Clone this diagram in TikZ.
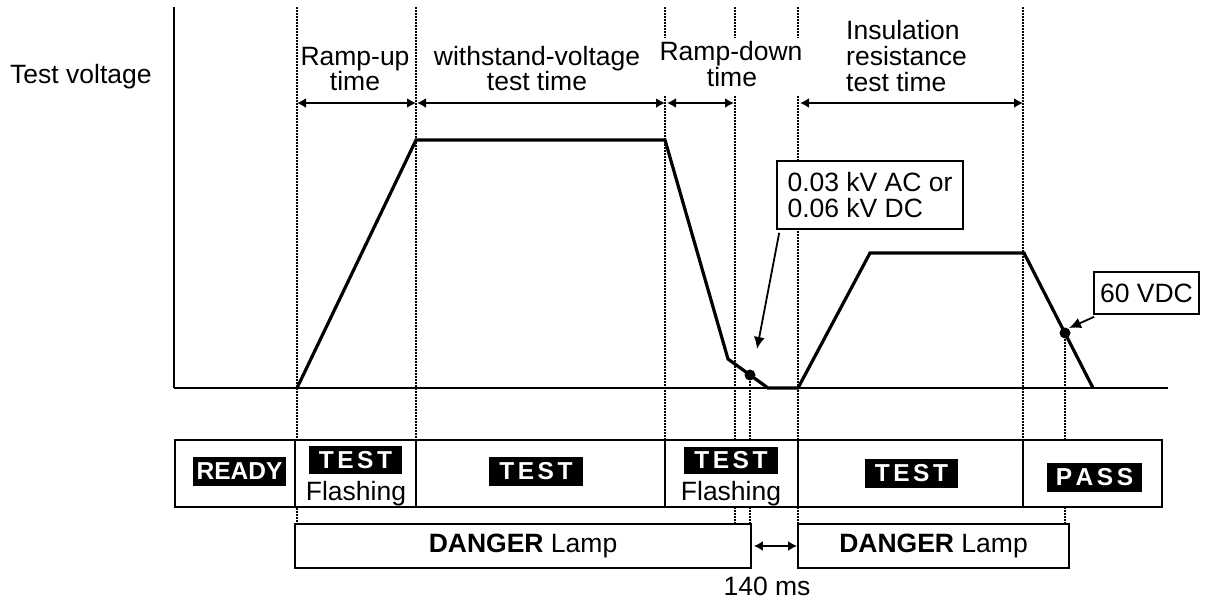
\documentclass[tikz,border=0pt]{standalone}
\usepackage{fontspec}
\setmainfont{Liberation Sans}
\usetikzlibrary{arrows.meta}
\newcommand\TestTag{T\kern3.5pt E\kern3.5pt S\kern3.5pt T}
\newcommand\PassTag{P\kern3.5pt A\kern3.5pt S\kern3.5pt S}
\begin{document}
\begin{tikzpicture}[x=1pt,y=-1pt,
  every node/.style={inner sep=0pt},
  txt/.style={font=\fontsize{26.5}{26}\selectfont},
  guide/.style={line width=1.1pt, dash pattern=on 1.6pt off 1.4pt},
  wave/.style={line width=3.2pt, line join=miter},
  dim/.style={line width=2pt, {Latex[length=9pt,width=10pt]}-{Latex[length=9pt,width=10pt]}},
  pointer/.style={line width=1.8pt, -{Latex[length=12pt,width=11pt]}},
  sbox/.style={draw, line width=1.8pt, fill=white, minimum height=67pt},
  lamp/.style={draw, line width=1.8pt, fill=white, minimum height=44pt, txt},
  tag/.style={fill=black, text=white, font=\fontsize{24.5}{24.5}\bfseries\selectfont, minimum height=29pt},
  note/.style={draw, line width=1.6pt, fill=white, txt, align=left}
]
\useasboundingbox (0,0) rectangle (1210,603);

% guide lines
\draw[guide] (297,7) -- (297,524);
\draw[guide] (416,7) -- (416,440);
\draw[guide] (665,7) -- (665,38) (665,96) -- (665,440);
\draw[guide] (735,7) -- (735,38) (735,96) -- (735,524);
\draw[guide] (750,375) -- (750,524);
\draw[guide] (798,7) -- (798,38) (798,96) -- (798,524);
\draw[guide] (1023,7) -- (1023,440);
\draw[guide] (1065,333) -- (1065,524);

% waveform points
\coordinate (p0) at (174,388);
\coordinate (p1) at (297,388);
\coordinate (p2) at (416,140);
\coordinate (p3) at (665,140);
\coordinate (p4) at (728,359);
\coordinate (p5) at (768,388);
\coordinate (p6) at (798,388);
\coordinate (p7) at (870,253);
\coordinate (p8) at (1024,253);
\coordinate (p9) at (1093,388);
\coordinate (p10) at (1168,388);
\coordinate (top) at (174,7);

% axes
\draw[line width=2.2pt] (top) -- (p0);
\draw[line width=2.7pt] (p0) -- (p10);
\draw[wave] (p1) -- (p2) -- (p3) -- (p4) -- (p5) -- (p6) -- (p7) -- (p8) -- (p9);

% dots
\node[circle, fill=black, minimum size=11pt] (dA) at (750,375) {};
\node[circle, fill=black, minimum size=11pt] (dB) at (1065,333) {};

% labels at top
\node[txt, anchor=base west] (tv) at (10,83) {Test voltage};
\node[txt, anchor=base] (ru1) at (355,65) {Ramp-up};
\node[txt, anchor=base] (ru2) at (355,90) {time};
\node[txt, anchor=base] (wv1) at (537,65) {withstand-voltage};
\node[txt, anchor=base] (wv2) at (537,90) {test time};
\node[txt, anchor=base] (rd1) at (731,60) {Ramp-down};
\node[txt, anchor=base] (rd2) at (732,86) {time};
\node[txt, anchor=base west] (ir1) at (846,39) {Insulation};
\node[txt, anchor=base west] (ir2) at (846,65) {resistance};
\node[txt, anchor=base west] (ir3) at (846,91) {test time};

% dimension arrows
\draw[dim] (297,103) -- (416,103);
\draw[dim] (417,103) -- (665,103);
\draw[dim] (667,103) -- (734,103);
\draw[dim] (800,103) -- (1023,103);

% notes
\node[note, minimum width=186pt, minimum height=68pt] (n1) at (870,195) {0.03 kV AC or\\0.06 kV DC};
\node[note, minimum width=105pt, minimum height=42pt] (n2) at (1146.5,293) {60 VDC};
\draw[pointer] ([xshift=3pt,yshift=-3pt]n1.south west) -- (757,349);
\draw[pointer] ([xshift=1pt,yshift=-2pt]n2.south west) -- (1069,328);

% status row
\node[sbox, minimum width=120pt] (s1) at (235,473.5) {};
\node[sbox, minimum width=121pt] (s2) at (355.5,473.5) {};
\node[sbox, minimum width=249pt] (s3) at (540.5,473.5) {};
\node[sbox, minimum width=133pt] (s4) at (731.5,473.5) {};
\node[sbox, minimum width=225pt] (s5) at (910.5,473.5) {};
\node[sbox, minimum width=139pt] (s6) at (1092.5,473.5) {};

\node[tag, minimum width=93pt] (t1) at (239.5,471.5) {READY};
\node[tag, minimum width=93pt, minimum height=28pt] (t2) at (355.5,460) {\TestTag};
\node[txt, anchor=base] (f1) at (356,500) {Flashing};
\node[tag, minimum width=94pt] (t3) at (536,471.5) {\TestTag};
\node[tag, minimum width=94pt, minimum height=27pt] (t4) at (731,460) {\TestTag};
\node[txt, anchor=base] (f2) at (731,500) {Flashing};
\node[tag, minimum width=93pt] (t5) at (911.5,473.5) {\TestTag};
\node[tag, minimum width=95pt] (t6) at (1094.5,477.5) {\PassTag};

% danger lamps
\node[lamp, minimum width=456pt] (d1) at (523,546) {\textbf{DANGER} Lamp};
\node[lamp, minimum width=271pt] (d2) at (933.5,546) {\textbf{DANGER} Lamp};
\draw[dim] ([xshift=2pt]d1.east) -- (d2.west);
\node[txt, anchor=base] (ms) at (767,595) {140 ms};
\end{tikzpicture}
\end{document}
